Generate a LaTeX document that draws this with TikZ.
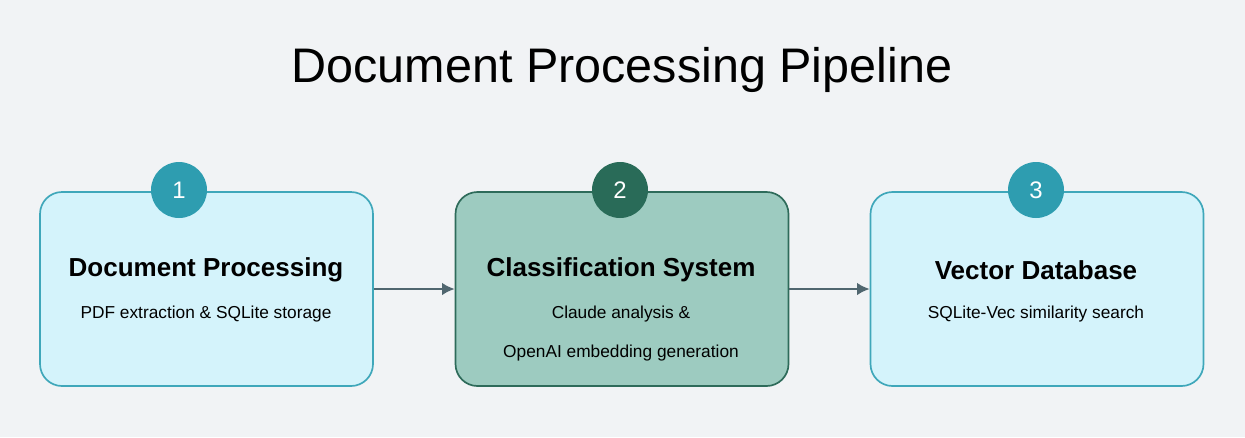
\documentclass[tikz,border=0pt]{standalone}
\usepackage{fontspec}
\setmainfont{Liberation Sans}
\begin{document}
\begin{tikzpicture}[x=0.025cm,y=-0.025cm,
  box/.style={draw=#1,line width=1.2pt,rounded corners=0.55cm,minimum width=333*0.025cm,minimum height=194*0.025cm},
  num/.style={circle,fill=#1,minimum size=56*0.025cm,inner sep=0,text=white,font=\fontsize{17pt}{20pt}\selectfont},
  ttl/.style={font=\fontsize{18.5pt}{22pt}\selectfont\bfseries},
  sub/.style={font=\fontsize{12.3pt}{15pt}\selectfont},
  arr/.style={draw=arrowc,line width=1.4pt,-{Latex[length=9pt,width=9pt]}}]
\usetikzlibrary{arrows.meta}
\definecolor{bgc}{HTML}{F1F3F5}
\definecolor{lfill}{HTML}{D4F3FB}
\definecolor{lborder}{HTML}{3FA7BA}
\definecolor{gfill}{HTML}{9DCBC0}
\definecolor{gborder}{HTML}{2E6B5A}
\definecolor{ncirc}{HTML}{2E9DB0}
\definecolor{gcirc}{HTML}{296B58}
\definecolor{arrowc}{HTML}{50666F}
\fill[bgc] (0,0) rectangle (1245,437);
\node[font=\fontsize{34.5pt}{40pt}\selectfont] (title) at (622,70) {Document Processing Pipeline};
\node[box=lborder,fill=lfill] (b1) at (206.5,289) {};
\node[box=gborder,fill=gfill] (b2) at (622,289) {};
\node[box=lborder,fill=lfill] (b3) at (1037,289) {};
\node[num=ncirc] (n1) at (179,190) {1};
\node[num=gcirc] (n2) at (620,190) {2};
\node[num=ncirc] (n3) at (1036,190) {3};
\node[ttl] (t1) at (206,270) {Document Processing};
\node[sub] (s1) at (206,314) {PDF extraction \& SQLite storage};
\node[ttl] (t2) at (621,270) {Classification System};
\node[sub] (s2a) at (621,314) {Claude analysis \&};
\node[sub] (s2b) at (621,353) {OpenAI embedding generation};
\node[ttl] (t3) at (1036,270) {Vector Database};
\node[sub] (s3) at (1036,314) {SQLite-Vec similarity search};
\draw[arr] (b1.east) -- (b2.west);
\draw[arr] (b2.east) -- (b3.west);
\end{tikzpicture}
\end{document}
